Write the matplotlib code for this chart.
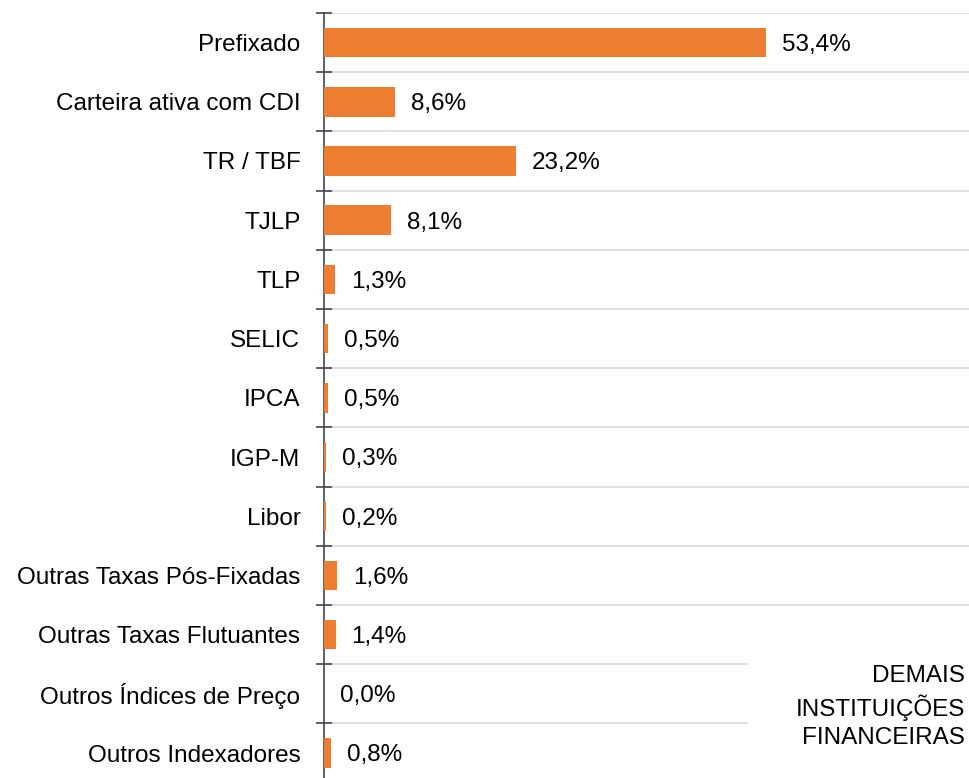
import matplotlib
matplotlib.use("Agg")
import matplotlib.pyplot as plt
import matplotlib.patches as mpatches
import numpy as np

plt.rcParams["font.family"] = ["Liberation Sans", "DejaVu Sans"]

# ── Data ─────────────────────────────────────────────────────────────────────
categories = [
    "Prefixado",
    "Carteira ativa com CDI",
    "TR / TBF",
    "TJLP",
    "TLP",
    "SELIC",
    "IPCA",
    "IGP-M",
    "Libor",
    "Outras Taxas Pós-Fixadas",
    "Outras Taxas Flutuantes",
    "Outros Índices de Preço",
    "Outros Indexadores",
]
shares = [53.4, 8.6, 23.2, 8.1, 1.3, 0.5, 0.5, 0.3, 0.2, 1.6, 1.4, 0.0, 0.8]
panel_label = "DEMAIS\nINSTITUIÇÕES\nFINANCEIRAS"

ORANGE = "#ED7D31"
GRID = "#D9D9D9"
AXIS = "#3F4555"
FS = 17.5

W, H = 969, 778
fig = plt.figure(figsize=(W / 100, H / 100), dpi=100)
left_px, top_px = 324, 13
ax = fig.add_axes([left_px / W, 0, 1 - left_px / W, 1 - top_px / H])

y = np.arange(len(categories))
ax.barh(y, shares, height=0.5, color=ORANGE, zorder=3)

# value labels next to each bar
for yi, v in zip(y, shares):
    ax.annotate(f"{v:.1f}%".replace(".", ","), xy=(v, yi), xytext=(11.5, 0),
                textcoords="offset points", va="center_baseline", ha="left",
                fontsize=FS, color="black")

row_px = 59.2
ax.set_xlim(0, (W - left_px) / 8.277)
ax.set_ylim(-0.5 + (H - top_px) / row_px, -0.5)

ax.set_yticks(y)
ax.set_yticklabels(categories, fontsize=FS)
ax.tick_params(axis="y", which="major", length=0, pad=17)
ax.set_yticks(np.arange(len(categories)) - 0.5, minor=True)
ax.tick_params(axis="y", which="minor", direction="inout", length=12,
               width=1.2, color=AXIS)
ax.grid(axis="y", which="minor", color=GRID, linewidth=1.2, zorder=0)
ax.set_xticks([])

for side in ("top", "right", "bottom"):
    ax.spines[side].set_visible(False)
ax.spines["left"].set_color(AXIS)
ax.spines["left"].set_linewidth(1.2)

# white panel behind the institution label (hides the gridlines there)
fig.add_artist(mpatches.Rectangle((748 / W, 0), 1 - 748 / W, 1 - 640 / H,
                                  transform=fig.transFigure, facecolor="white",
                                  edgecolor="none", zorder=4))
fig.text(965 / W, 1 - 707 / H, panel_label, ha="right", va="center",
         fontsize=FS, linespacing=1.35, zorder=5)

fig.savefig("out.png", dpi=100, facecolor="white")
plt.close(fig)
